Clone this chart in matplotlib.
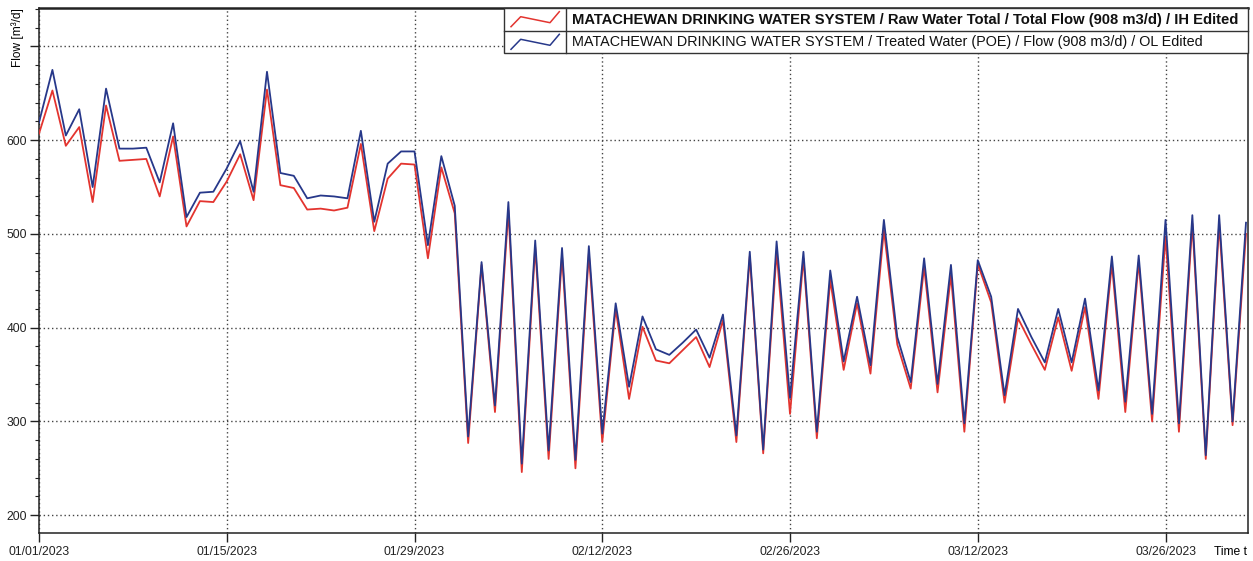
import numpy as np
import pandas as pd
import matplotlib
matplotlib.use("Agg")
import matplotlib.pyplot as plt
import matplotlib.dates as mdates
from matplotlib.patches import Rectangle
from matplotlib.lines import Line2D

plt.rcParams['font.family'] = ['Liberation Sans', 'DejaVu Sans']

# daily values, 01/01/2023 .. 04/01/2023
dates = pd.date_range('2023-01-01', periods=91, freq='D')

raw_total = [607, 653, 594, 614, 534, 637, 578, 579, 580, 540,
             604, 508, 535, 534, 556, 585, 536, 654, 552, 549,
             526, 527, 525, 528, 596, 503, 559, 575, 574, 474,
             571, 522, 277, 467, 310, 525, 246, 486, 260, 477,
             250, 479, 278, 420, 324, 401, 365, 362, 376, 390,
             358, 408, 278, 476, 266, 481, 308, 474, 282, 451,
             355, 426, 351, 504, 382, 335, 465, 331, 456, 289,
             468, 427, 320, 410, 382, 355, 411, 354, 422, 324,
             468, 310, 470, 300, 497, 289, 511, 260, 511, 296,
             500]

treated = [619, 675, 605, 633, 550, 655, 591, 591, 592, 555,
           618, 518, 544, 545, 570, 599, 545, 673, 565, 562,
           538, 541, 540, 538, 610, 513, 575, 588, 588, 488,
           583, 530, 284, 470, 317, 534, 255, 493, 269, 485,
           259, 487, 287, 426, 337, 412, 377, 371, 384, 398,
           368, 414, 285, 481, 270, 492, 325, 481, 289, 461,
           364, 433, 360, 515, 390, 342, 474, 340, 467, 298,
           472, 433, 328, 420, 390, 363, 420, 363, 431, 333,
           476, 321, 477, 308, 515, 298, 520, 264, 520, 300,
           512]

tick_dates = pd.date_range('2023-01-01', periods=7, freq='14D')
y_ticks = [200, 300, 400, 500, 600, 700]
y_labels = ['200', '300', '400', '500', '600', '']

labels = ['MATACHEWAN DRINKING WATER SYSTEM / Raw Water Total / Total Flow (908 m3/d) / IH Edited',
          'MATACHEWAN DRINKING WATER SYSTEM / Treated Water (POE) / Flow (908 m3/d) / OL Edited']
red = '#e3342f'
blue = '#27388a'

W, H = 1253, 561
fig = plt.figure(figsize=(W / 100, H / 100), dpi=100)
ax = fig.add_axes([39 / W, 1 - 533 / H, 1209 / W, 525 / H])

ax.plot(dates, raw_total, color=red, lw=1.3, zorder=3)
ax.plot(dates, treated, color=blue, lw=1.3, zorder=4)

ax.set_xlim(dates[0], dates[0] + pd.Timedelta(days=90.15))
ax.set_ylim(181, 741)
ax.set_xticks(tick_dates)
ax.xaxis.set_major_formatter(mdates.DateFormatter('%m/%d/%Y'))
ax.set_yticks(y_ticks)
ax.set_yticklabels(y_labels)
ax.set_yticks(np.arange(200, 741, 20), minor=True)
ax.tick_params(axis='both', which='major', labelsize=8.7, length=6.5, width=1, direction='out', colors='#222')
ax.tick_params(axis='y', which='major', pad=2)
ax.tick_params(axis='x', which='major', pad=3)
ax.tick_params(axis='y', which='minor', length=3, width=0.8, color='#222')
ax.grid(True, which='major', color='#444', lw=1.0, linestyle=(0, (1, 2)))
for s in ax.spines.values():
    s.set_color('#222')
    s.set_linewidth(1.1)
ax.spines['top'].set_linewidth(1.8)

fig.text(18 / W, 1 - 8 / H, 'Flow [m³/d]', rotation=90, ha='center', va='top', fontsize=8.6)
fig.text(1247 / W, 1 - 552 / H, 'Time t', ha='right', va='center', fontsize=8.7)

# legend box
lx0, lx1, ly0, ly1, lmid, ldiv = 504, 1248, 8, 53.3, 31, 565.7
fig.add_artist(Rectangle((lx0 / W, 1 - ly1 / H), (lx1 - lx0) / W, (ly1 - ly0) / H,
                         transform=fig.transFigure, facecolor='white', edgecolor='#333', lw=1.0, zorder=5))
fig.add_artist(Line2D([lx0 / W, lx1 / W], [1 - lmid / H] * 2, transform=fig.transFigure, color='#333', lw=1.0, zorder=6))
fig.add_artist(Line2D([ldiv / W] * 2, [1 - ly0 / H, 1 - ly1 / H], transform=fig.transFigure, color='#333', lw=1.0, zorder=6))
squig_x = [511, 520.7, 550, 559.3]
squig_y = [26.7, 16.7, 22.7, 11.7]
for i, (c, lab) in enumerate(zip([red, blue], labels)):
    off = i * 22.6
    xs = [x / W for x in squig_x]
    ys = [1 - (y + off) / H for y in squig_y]
    fig.add_artist(Line2D(xs, ys, transform=fig.transFigure, color=c, lw=1.1, zorder=6))
    fig.text(572 / W, 1 - (19.8 + off) / H, lab, ha='left', va='center',
             fontsize=10.65 if i == 0 else 10.4,
             fontweight='bold' if i == 0 else 'normal', color='#111', zorder=7)

fig.savefig('out.png', dpi=100)
